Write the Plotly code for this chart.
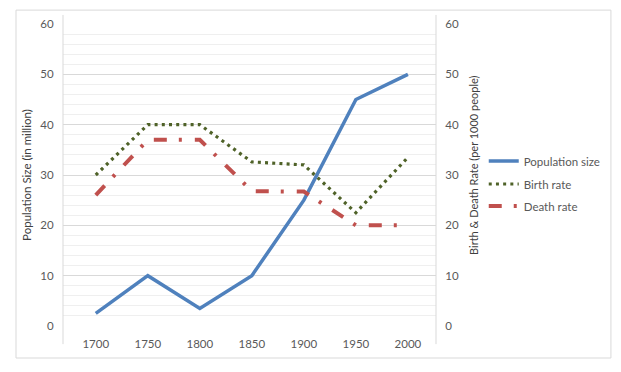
import plotly.graph_objects as go

years = ["1700", "1750", "1800", "1850", "1900", "1950", "2000"]
population = [2.5, 10, 3.5, 10, 25, 45, 50]
birth_rate = [30, 40, 40, 32.6, 32, 22.5, 33.5]
death_rate = [26, 37, 37, 26.8, 26.7, 20, 20]

font_family = "Lato, Open Sans, sans-serif"
tick_color = "#595959"
title_color = "#404040"
xpos = list(range(len(years)))

fig = go.Figure()
fig.add_trace(go.Scatter(x=xpos, y=population, name="Population size", mode="lines",
                         line=dict(color="#4f81bd", width=3.5), yaxis="y", legend="legend"))
fig.add_trace(go.Scatter(x=xpos, y=birth_rate, name="Birth rate", mode="lines",
                         line=dict(color="#4f6228", width=3.2, dash="3px,4.2px"), yaxis="y2",
                         legend="legend2"))
fig.add_trace(go.Scatter(x=xpos, y=death_rate, name="Death rate", mode="lines",
                         line=dict(color="#c0504d", width=4, dash="13px,12px,3px,13px"), yaxis="y2",
                         legend="legend3"))

grid_major = "#d9d9d9"
grid_minor = "#efefef"

def leg(ypix):
    return dict(x=1.128, xanchor="left", y=(326 - ypix) / 302, yanchor="middle",
                font=dict(size=11.5, color=tick_color), bgcolor="rgba(0,0,0,0)")

fig.update_layout(
    width=621, height=372,
    margin=dict(l=63, r=185, t=24, b=46),
    paper_bgcolor="white", plot_bgcolor="white",
    font=dict(family=font_family, size=11.5, color=tick_color),
    showlegend=True,
    legend=leg(161), legend2=leg(184), legend3=leg(206),
    xaxis=dict(range=[-0.63, 6.54], tickvals=xpos, ticktext=years, automargin=False,
               showgrid=False, zeroline=False, showline=False,
               ticks="outside", ticklen=7, tickcolor="rgba(0,0,0,0)",
               tickfont=dict(size=11.5, color=tick_color)),
    yaxis=dict(range=[0, 60], dtick=10, tick0=0, showgrid=True, gridcolor=grid_major,
               gridwidth=1, zeroline=False, showline=False, automargin=False,
               minor=dict(dtick=2, showgrid=True, gridcolor=grid_minor, gridwidth=1),
               ticks="outside", ticklen=6, tickcolor="rgba(0,0,0,0)",
               tickfont=dict(size=11.5, color=tick_color),
               title=dict(text="Population Size (in million)", standoff=6,
                          font=dict(size=11.5, color=title_color))),
    yaxis2=dict(range=[0, 60], dtick=10, overlaying="y", side="right",
                showgrid=False, zeroline=False, showline=False, automargin=False,
                ticks="outside", ticklen=6, tickcolor="rgba(0,0,0,0)",
                tickfont=dict(size=11.5, color=tick_color)),
    annotations=[
        dict(text="Birth & Death Rate (per 1000 people)", xref="paper", yref="paper",
             x=(473 - 63) / 373, y=(326 - 165) / 302, xanchor="center", yanchor="middle",
             textangle=-90, showarrow=False, font=dict(size=11, color=title_color)),
    ],
    shapes=[
        dict(type="line", xref="paper", yref="paper", x0=0, x1=0, y0=-0.06, y1=1.03,
             line=dict(color=grid_major, width=1)),
        dict(type="line", xref="paper", yref="paper", x0=1, x1=1, y0=-0.06, y1=1.03,
             line=dict(color=grid_major, width=1)),
        dict(type="rect", xref="paper", yref="paper", x0=-0.126, x1=1.469, y0=-0.106, y1=1.046,
             line=dict(color=grid_major, width=1)),
    ],
)

fig.write_html("out.html", config={"displayModeBar": False},
               post_script="document.body.style.margin='0';")
